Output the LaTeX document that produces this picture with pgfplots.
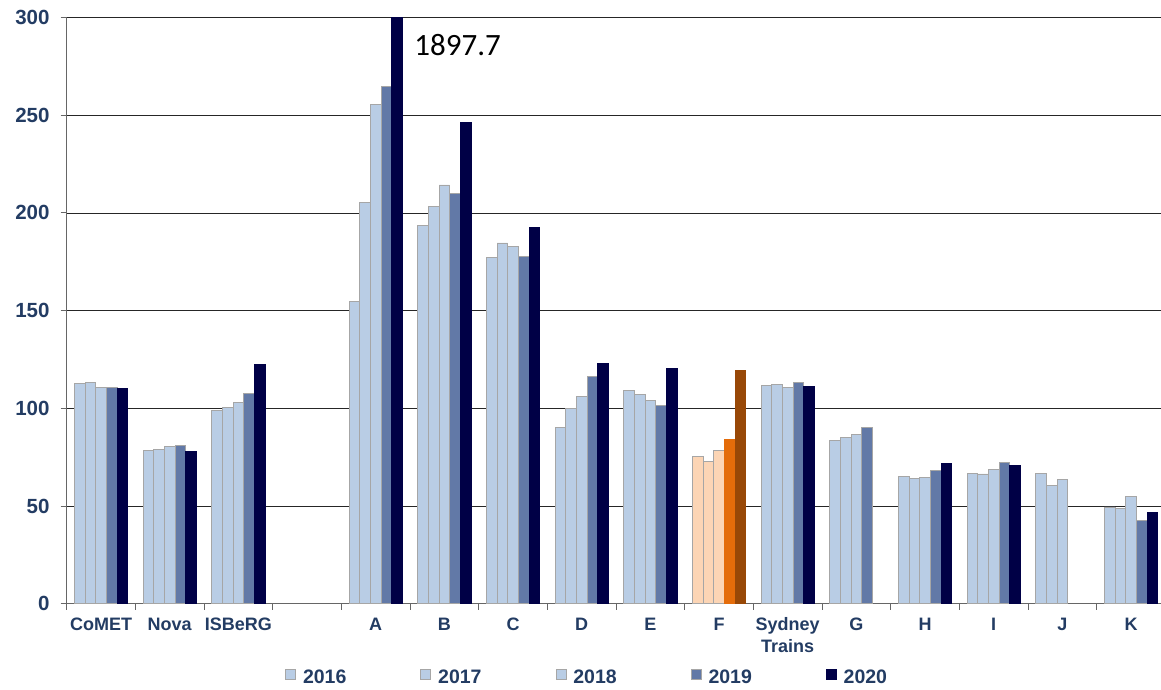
\documentclass[border=0pt]{standalone}
\usepackage{fontspec}
\setmainfont{Liberation Sans}
\newfontfamily\carlito{Carlito}
\usepackage{pgfplots}
\pgfplotsset{compat=1.18}
\usepackage{pgfplotstable}

\definecolor{labelblue}{HTML}{233C63}
\definecolor{lightbar}{HTML}{B9CDE5}
\definecolor{midbar}{HTML}{6279A7}
\definecolor{navybar}{HTML}{000046}
\definecolor{baredge}{HTML}{A6A6A6}
\definecolor{peach}{HTML}{FCD5B5}
\definecolor{orangebar}{HTML}{E46C0A}
\definecolor{brownbar}{HTML}{984807}

% category index: 0 CoMET, 1 Nova, 2 ISBeRG, 3 (empty), 4 A, 5 B, 6 C, 7 D,
% 8 E, 9 F, 10 Sydney Trains, 11 G, 12 H, 13 I, 14 J, 15 K
\pgfplotstableread{
x y
0 112.7
1 78.2
2 99.1
4 154.6
5 193.5
6 177.3
7 90.1
8 109.0
10 111.9
11 83.4
12 65.2
13 66.7
14 66.7
15 49.5
}\ysixteen
\pgfplotstableread{
x y
0 113.1
1 78.7
2 100.5
4 205.5
5 203.1
6 184.6
7 100.0
8 107.0
10 112.3
11 85.3
12 64.2
13 66.4
14 60.4
15 48.5
}\yseventeen
\pgfplotstableread{
x y
0 110.8
1 80.5
2 103.1
4 255.6
5 214.3
6 182.8
7 106.0
8 104.1
10 110.6
11 86.5
12 64.7
13 68.6
14 63.7
15 54.8
}\yeighteen
\pgfplotstableread{
x y
0 110.6
1 81.1
2 107.5
4 264.8
5 209.9
6 177.6
7 116.4
8 101.5
10 113.1
11 90.1
12 68.3
13 72.2
15 42.7
}\ynineteen
\pgfplotstableread{
x y
0 110.2
1 77.8
2 122.5
4 1897.7
5 246.2
6 192.7
7 122.9
8 120.6
10 111.3
12 71.7
13 70.5
15 46.6
}\ytwenty
% F, drawn in its own colours
\pgfplotstableread{
yr y
2016 75.6
2017 73.0
2018 78.5
2019 84.1
2020 119.6
}\fvalues

\pgfplotsset{
  sq legend/.style={legend image code/.code={%
    \draw[##1, line width=0.8pt] (0pt,-2.8pt) rectangle (10pt,7.2pt);}},
  bw/.style={ybar, bar width=10.67pt, bar shift=#1*10.67pt, line width=0.9pt},
}

\begin{document}
\begin{tikzpicture}
\path[use as bounding box] (-66.7pt,-85.3pt) rectangle (1094.3pt,603.7pt);
\begin{axis}[
  scale only axis,
  width=1098.7pt, height=586.2pt,
  xmin=-0.5, xmax=15.5,
  ymin=0, ymax=300,
  axis lines*=left,
  axis line style={draw=black!60, line width=1pt},
  xtick={-0.5,0.5,...,15.5},
  x tick label as interval,
  xticklabels={CoMET,Nova,ISBeRG,,A,B,C,D,E,F,{Sydney\\Trains},G,H,I,J,K},
  ytick={0,50,...,300},
  tick align=outside,
  major tick length=6pt,
  tick style={draw=black!60, line width=1pt},
  ymajorgrids,
  grid style={draw=black!85, line width=0.8pt},
  /pgf/number format/assume math mode=true,
  ticklabel style={text=labelblue},
  yticklabel style={font=\bfseries\fontsize{20.5}{24}\selectfont, inner sep=0pt, xshift=-11pt},
  xticklabel style={font=\bfseries\fontsize{18}{21.7}\selectfont, align=center, inner sep=0pt, yshift=-8pt},
  clip=true,
  legend columns=5,
  legend style={at={(0.4728,-0.125)}, anchor=center, draw=none, fill=none,
    font=\bfseries\fontsize{19.5}{23}\selectfont, text=labelblue,
    nodes={inner sep=0pt},
    /tikz/every odd column/.append style={column sep=7pt},
    /tikz/every even column/.append style={column sep=74pt}},
]
\addplot[bw=-2, fill=lightbar, draw=baredge, sq legend] table[x=x,y=y] {\ysixteen};
\addlegendentry{2016}
\addplot[bw=-1, fill=lightbar, draw=baredge, sq legend] table[x=x,y=y] {\yseventeen};
\addlegendentry{2017}
\addplot[bw=0, fill=lightbar, draw=baredge, sq legend] table[x=x,y=y] {\yeighteen};
\addlegendentry{2018}
\addplot[bw=1, fill=midbar, draw=baredge, sq legend] table[x=x,y=y] {\ynineteen};
\addlegendentry{2019}
\addplot[bw=2, fill=navybar, draw=navybar, sq legend] table[x=x,y=y] {\ytwenty};
\addlegendentry{2020}

\addplot[bw=-2, fill=peach, draw=baredge, forget plot] table[x expr=9, y index=1, skip coords between index={1}{5}] {\fvalues};
\addplot[bw=-1, fill=peach, draw=baredge, forget plot] table[x expr=9, y index=1, skip coords between index={0}{1}, skip coords between index={2}{5}] {\fvalues};
\addplot[bw=0, fill=peach, draw=baredge, forget plot] table[x expr=9, y index=1, skip coords between index={0}{2}, skip coords between index={3}{5}] {\fvalues};
\addplot[bw=1, fill=orangebar, draw=orangebar, forget plot] table[x expr=9, y index=1, skip coords between index={0}{3}, skip coords between index={4}{5}] {\fvalues};
\addplot[bw=2, fill=brownbar, draw=brownbar, forget plot] table[x expr=9, y index=1, skip coords between index={0}{4}] {\fvalues};

\node[anchor=base west, inner sep=0pt, font=\carlito\fontsize{31}{36}\selectfont]
  at (axis cs:4.562,280.8) {1897.7};
\end{axis}
\end{tikzpicture}
\end{document}
